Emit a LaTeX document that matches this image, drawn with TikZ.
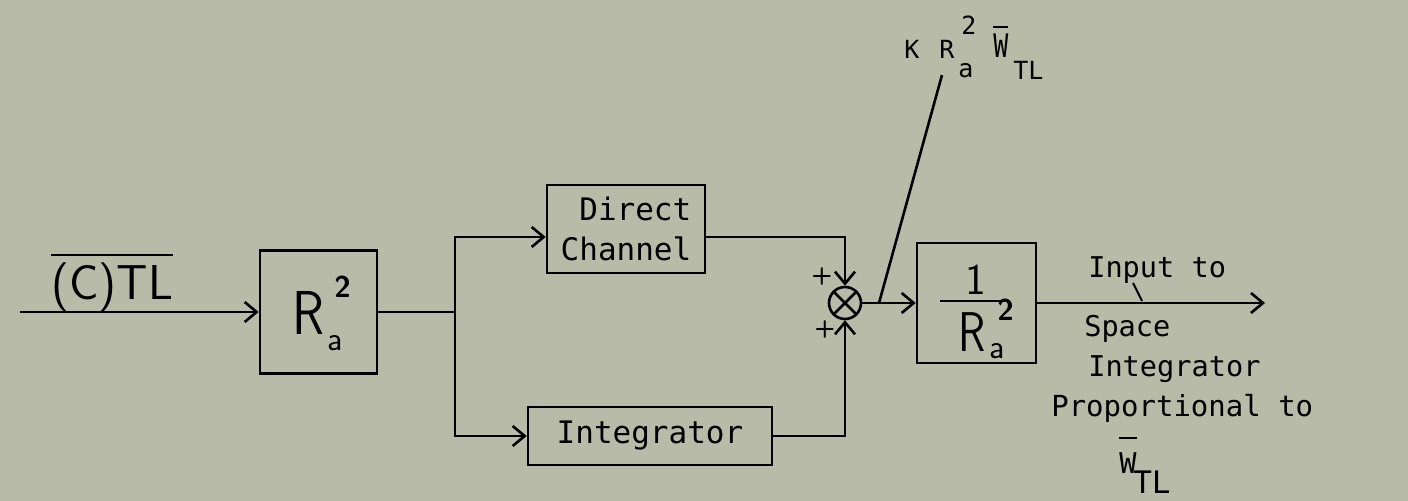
\documentclass[tikz,border=0pt]{standalone}
\usepackage{fontspec}
\setmonofont{DejaVu Sans Mono}
\usetikzlibrary{arrows.meta}
\definecolor{bg}{RGB}{183,187,167}
\begin{document}
\begin{tikzpicture}[x=0.5pt,y=-0.5pt, line width=1.3pt,
  >={Straight Barb[length=6pt,width=10pt]},
  box/.style={draw, rectangle, inner sep=0pt},
  mono/.style={font=\ttfamily\fontsize{15.5}{20}\selectfont, inner sep=0pt},
  lab/.style={font=\ttfamily\fontsize{14.3}{16}\selectfont, inner sep=0pt, anchor=base west},
  ktxt/.style={font=\ttfamily\fontsize{12.5}{13}\selectfont, inner sep=0pt, anchor=base west},
  hand/.style={font=\sffamily\fontsize{31}{31}\selectfont, inner sep=0pt, anchor=base west},
  sm/.style={font=\sffamily\fontsize{17}{17}\selectfont, inner sep=0pt, anchor=base west},
  smsup/.style={font=\sffamily\bfseries\fontsize{15}{15}\selectfont, inner sep=0pt, anchor=base west},
  plus/.style={font=\sffamily\bfseries\fontsize{12}{12}\selectfont, inner sep=0pt}]
\fill[bg] (0,0) rectangle (1408,501);

% input label
\node[anchor=base west, inner sep=0pt, font=\sffamily\fontsize{24.5}{25}\selectfont] (ctl) at (50,300)
  {\vbox{\hrule height 1.3pt\kern3.5pt\hbox{(C)TL}}};

% R^2 box
\node[box, minimum width=58.5pt, minimum height=61.5pt] (r2) at (318.5,312) {};
\node[hand] (r2R) at (291,335) {\scalebox{0.85}[1]{R}};
\node[smsup] (r2sup) at (333,298) {2};
\node[sm] (r2sub) at (326,351) {a};

% direct channel and integrator
\node[box, mono, align=right, minimum width=79pt, minimum height=44pt] (dc) at (626,229) {Direct\\Channel};
\node[box, mono, minimum width=122pt, minimum height=29pt] (int) at (650,436) {Integrator};

% summing junction
\node[draw, circle, minimum size=16pt, inner sep=0pt] (s) at (845,303) {};
\draw (s.north west) -- (s.south east) (s.north east) -- (s.south west);
\node[plus] (p1) at (822,277) {+};
\node[plus] (p2) at (825,330) {+};

% 1/R^2 box
\node[box, minimum width=59.5pt, minimum height=60pt] (b2) at (976.5,303) {};
\node[hand, font=\sffamily\fontsize{22}{22}\selectfont] (one) at (964,295) {1};
\draw (940,301) -- (1005,301);
\node[hand, font=\sffamily\fontsize{28}{28}\selectfont] (b2R) at (957,352) {\scalebox{0.8}[1]{R}};
\node[smsup] (b2sup) at (996,321) {2};
\node[sm] (b2sub) at (988,359) {a};

% K R_a^2 W_TL label
\node[ktxt] (kK) at (903,59) {K};
\node[ktxt] (kR) at (938,59) {R};
\node[ktxt] (k2) at (960,35) {2};
\node[ktxt] (ka) at (957,78) {a};
\node[ktxt] (kW) at (992,58) {\vbox{\hrule height 1.2pt\kern3pt\hbox{\scalebox{1}[1.3]{W}}}};
\node[ktxt] (kTL) at (1012,80) {TL};

% output labels
\node[lab] (inp) at (1087,278) {Input to};
\node[lab] (spc) at (1083,337) {Space};
\node[lab] (intg) at (1087,377) {Integrator};
\node[lab, font=\ttfamily\fontsize{14.5}{16}\selectfont] (prop) at (1050,417) {Proportional to};
\node[lab] (wW) at (1118,474) {\vbox{\hrule height 1.2pt\kern7pt\hbox{W}}};
\node[lab, font=\ttfamily\fontsize{15.5}{16}\selectfont] (wTL) at (1132,494) {TL};

% coordinates
\coordinate (in) at (20,312);
\coordinate (j) at (455,312);
\coordinate (tap) at (879,303);
\coordinate (kt) at (942,75);
\coordinate (out) at (1265,303);
\coordinate (t1) at (1133,283);
\coordinate (t2) at (1142,301);

% connectors
\draw[->] (in) -- (r2.west);
\draw (r2.east) -- (j);
\draw[->] (j) |- ([yshift=-4pt]dc.west);
\draw[->] (j) |- (int.west);
\draw[->] ([yshift=-4pt]dc.east) -| (s.north);
\draw[->] (int.east) -| (s.south);
\draw[->] (s.east) -- (b2.west);
\draw (tap) -- (kt);
\draw[->] (b2.east) -- (out);
\draw[line width=1pt] (t1) -- (t2);
\end{tikzpicture}
\end{document}
